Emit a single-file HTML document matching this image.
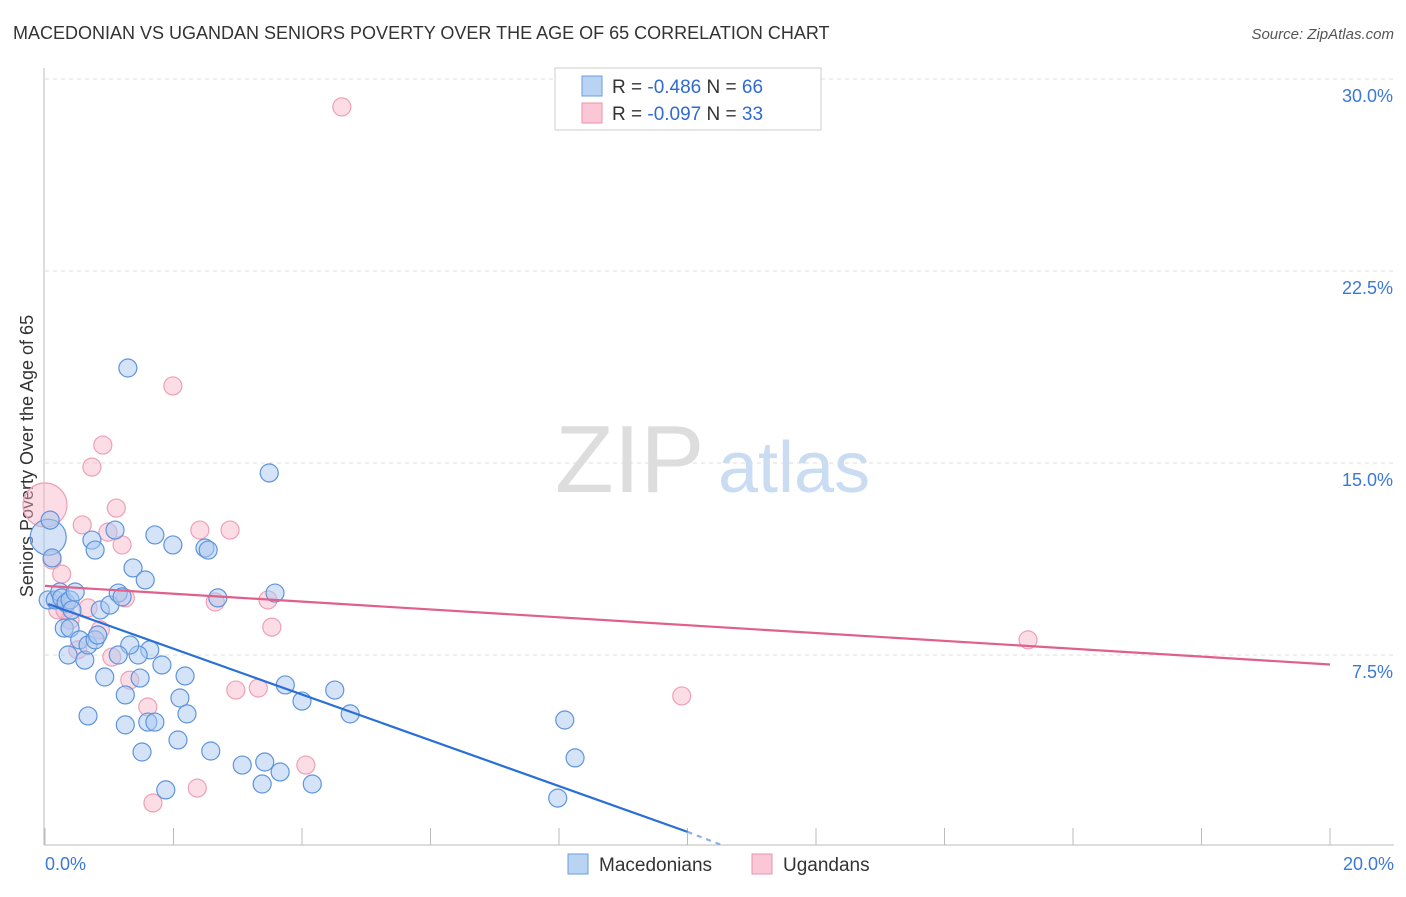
<!DOCTYPE html>
<html><head><meta charset="utf-8"><style>
body{margin:0;background:#fff;font-family:"Liberation Sans",sans-serif;}
svg text{font-family:"Liberation Sans",sans-serif;}
</style></head><body>
<svg id="c" width="1406" height="892">
<text x="13" y="39" font-size="18" fill="#333">MACEDONIAN VS UGANDAN SENIORS POVERTY OVER THE AGE OF 65 CORRELATION CHART</text>
<text x="1394" y="39" font-size="15" fill="#555" font-style="italic" text-anchor="end">Source: ZipAtlas.com</text>
<text x="0" y="0" transform="translate(33,456) rotate(-90)" font-size="18" fill="#333" text-anchor="middle">Seniors Poverty Over the Age of 65</text>
<text x="555" y="492" font-size="96" fill="#ddd" font-family="Liberation Serif">ZIP</text>
<text x="718" y="492" font-size="72" fill="#c9dcf2">atlas</text>
<g id="grid"></g><g id="pts"></g><g id="lines"></g>
<rect x="555" y="68" width="266" height="62" fill="#fff" stroke="#ccc"/>
<rect x="582" y="76" width="20" height="20" fill="#b9d3f3" stroke="#6a9ee0"/>
<rect x="582" y="103" width="20" height="20" fill="#fbc7d6" stroke="#e993ad"/>
<text x="612" y="93" font-size="19" fill="#333">R = <tspan fill="#2f6bd1">-0.486</tspan>   N = <tspan fill="#2f6bd1">66</tspan></text>
<text x="612" y="120" font-size="19" fill="#333">R = <tspan fill="#2f6bd1">-0.097</tspan>   N = <tspan fill="#2f6bd1">33</tspan></text>
<rect x="568" y="854" width="20" height="20" fill="#b9d3f3" stroke="#6a9ee0"/>
<text x="599" y="871" font-size="19" fill="#333">Macedonians</text>
<rect x="752" y="854" width="20" height="20" fill="#fbc7d6" stroke="#e993ad"/>
<text x="783" y="871" font-size="19" fill="#333">Ugandans</text>
</svg>
<script>
const yTicks=[7.5,15,22.5,30];
const yTickLabels=["7.5%","15.0%","22.5%","30.0%"];
const xTicks=[0,2,4,6,8,10,12,14,16,18,20];
const xEndLabels=["0.0%","20.0%"];
const macX=[0.05,0.08,0.11,0.05,0.16,0.23,0.26,0.33,0.39,0.42,0.47,0.30,0.39,0.36,0.54,0.62,0.67,0.78,0.82,0.73,0.78,0.86,1.01,1.09,1.14,1.20,1.29,1.37,1.56,1.71,1.99,2.49,1.63,1.45,1.32,1.14,0.93,1.25,1.48,1.82,2.18,2.10,1.25,1.60,1.71,1.51,0.67,2.07,2.21,1.88,2.58,3.07,2.54,2.69,3.58,3.74,4.00,4.51,4.75,3.42,3.66,3.38,4.16,3.49,8.09,8.25,7.98];
const macY=[12.1,12.77,11.29,9.65,9.65,9.96,9.73,9.53,9.65,9.26,9.96,8.55,8.55,7.5,8.09,7.30,7.89,8.09,8.28,11.99,11.60,9.26,9.45,12.38,9.92,9.77,18.71,10.90,10.43,12.19,11.80,11.68,7.70,7.5,7.89,7.5,6.64,5.94,6.60,7.11,6.68,5.82,4.77,4.88,4.88,3.71,5.12,4.18,5.20,2.23,3.75,3.20,11.60,9.73,9.92,6.33,5.70,6.13,5.20,3.32,2.93,2.46,2.46,14.61,4.96,3.48,1.91];
const ugaX=[0,0.11,0.26,0.20,0.39,0.31,0.58,0.98,1.11,1.20,0.73,0.90,0.67,0.51,1.04,1.32,1.60,1.68,1.99,2.41,2.88,2.65,2.97,3.32,3.47,3.53,4.06,2.37,4.62,15.30,9.91,1.25,0.86];
const ugaY=[13.36,11.21,10.66,9.26,8.87,9.26,12.58,12.30,13.24,11.80,14.84,15.70,9.34,7.70,7.42,6.52,5.47,1.72,18.01,12.38,12.38,9.57,6.13,6.21,9.65,8.59,3.20,2.30,28.91,8.09,5.90,9.73,8.48];
const macTrend=[[0.05,9.49],[10.0,0.59]];
const macTrendExt=[[10.0,0.59],[10.54,0.07]];
const ugaTrend=[[0,10.2],[20,7.13]];
const X=v=>45+v/20*1285, Y=v=>847-v/7.5*192;
const NS="http://www.w3.org/2000/svg";
function mk(t,a,p){const e=document.createElementNS(NS,t);for(const k in a)e.setAttribute(k,a[k]);p.appendChild(e);return e;}
const grid=document.getElementById('grid');
yTicks.forEach((t,i)=>{
 const l=mk('line',{x1:45,x2:1394,y1:Y(t),y2:Y(t),stroke:'#ddd','stroke-dasharray':'4,4'},grid);
 
 
 const tx=mk('text',{x:1393,y:Y(t)+23,'font-size':18,fill:'#3b78d8','text-anchor':'end'},grid);tx.textContent=yTickLabels[i];
 
 
});
const ax=mk('line',{x1:44,x2:44,y1:68,y2:845,stroke:'#bbb'},grid);


const bx=mk('line',{x1:44,x2:1394,y1:845,y2:845,stroke:'#bbb'},grid);


xTicks.forEach(t=>{const l=mk('line',{x1:X(t),x2:X(t),y1:828,y2:845,stroke:'#bbb'},grid);
 
 });
[[0,'start',45],[1,'end',1394]].forEach(([i,a,x])=>{const t=mk('text',{x:x,y:870,'font-size':18,fill:'#3b78d8','text-anchor':a},grid);t.textContent=xEndLabels[i];
 
 });
const pts=document.getElementById('pts');
ugaX.forEach((x,i)=>{const c=mk('circle',{cx:X(x),cy:Y(ugaY[i]),r:i==0?22:9,fill:'rgba(248,180,200,0.45)',stroke:'#eda0b6','stroke-width':1.2},pts);
 
 });
macX.forEach((x,i)=>{const c=mk('circle',{cx:X(x),cy:Y(macY[i]),r:i==0?18:9,fill:'rgba(170,200,240,0.5)',stroke:'#5e94dc','stroke-width':1.2},pts);
 
 });
const ln=document.getElementById('lines');
function seg(p,col,dash,name){const l=mk('line',{x1:X(p[0][0]),y1:Y(p[0][1]),x2:X(p[1][0]),y2:Y(p[1][1]),stroke:col,'stroke-width':2.2},ln);if(dash)l.setAttribute('stroke-dasharray','5,5');
 
 }
seg(ugaTrend,'#e0608a',false,'ugandan-trendline');
seg(macTrend,'#2a6fd6',false,'macedonian-trendline');
seg(macTrendExt,'#8ab0e8',true,'macedonian-trendline-extension');
</script>
</body></html>
